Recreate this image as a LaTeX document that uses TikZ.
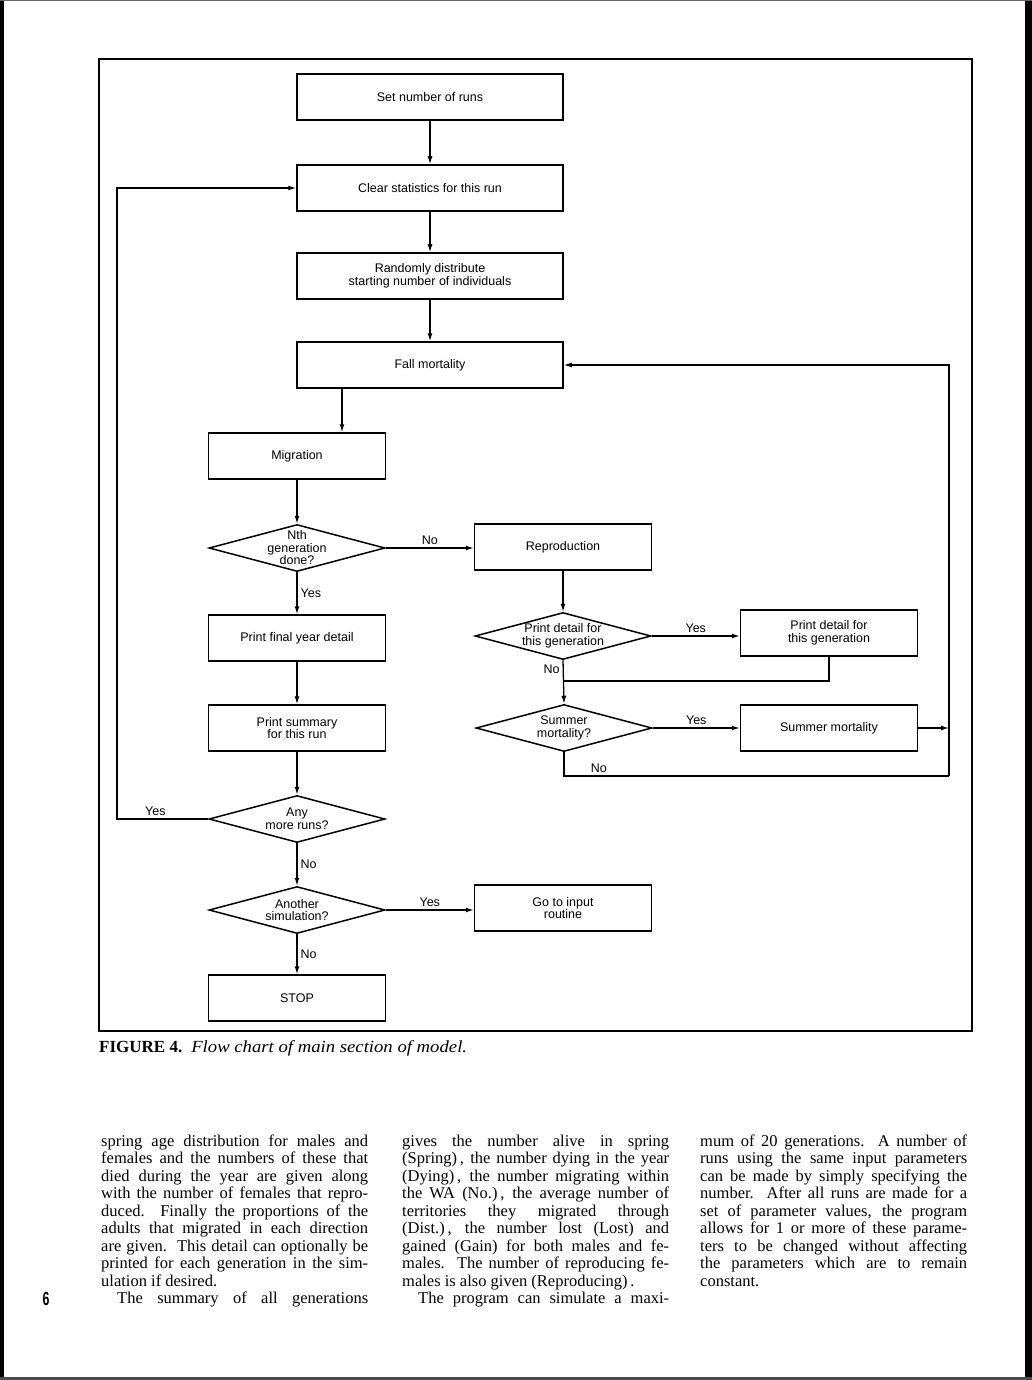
\documentclass[tikz,border=0pt]{standalone}
\usepackage{fontspec}
\setmainfont{Liberation Serif}
\newfontfamily\chartfont{Liberation Sans}
\usetikzlibrary{shapes.geometric,arrows.meta}

\newcommand{\chartsize}{\chartfont\fontsize{12.5}{12.5}\selectfont}
\newlength{\colwidth}
\setlength{\colwidth}{267pt}
\newcommand{\fullline}[1]{\hbox to \colwidth{#1}}
\newcommand{\lastline}[1]{\hbox to \colwidth{#1\hfil}}
\newcommand{\indentline}[1]{\hbox to \colwidth{\hspace{16pt}#1}}

\tikzset{
    box/.style = {draw, line width=1.5pt, minimum width=177pt, minimum height=46pt,
                  inner sep=2pt, align=center, font=\chartsize},
    widebox/.style = {box, minimum width=266pt},
    decision/.style = {draw, diamond, line width=1.5pt, minimum width=176pt,
                       minimum height=47pt, inner sep=0pt},
    qtext/.style = {align=center, inner sep=0pt, font=\chartsize},
    lbl/.style = {font=\chartsize, inner sep=3pt},
    wire/.style = {line width=1.3pt},
    arr/.style = {wire, -{Latex[length=8pt,width=5pt]}},
    bodytext/.style = {anchor=base west, inner sep=0pt,
                       font=\fontsize{16.5}{17.5}\selectfont}
}

\begin{document}
\begin{tikzpicture}[x=1pt,y=-1pt]
    \useasboundingbox (0,0) rectangle (1032,1380);

    % edges of the scanned page
    \fill[black] (0,0) rectangle (4,1380);
    \fill[black] (1025,0) rectangle (1032,1380);
    \fill[black!60] (0,0) rectangle (1032,1.2);
    \fill[black!70] (0,1377) rectangle (1032,1380);

    \draw[line width=1.5pt] (99,59) rectangle (972,1031);

    \node[widebox] (runs) at (430,97) {Set number of runs};
    \node[widebox] (clear) at (430,188) {Clear statistics for this run};
    \node[widebox] (rand) at (430,276) {Randomly distribute\\starting number of individuals};
    \node[widebox] (fall) at (430,365) {Fall mortality};

    \node[box] (mig) at (297,456) {Migration};
    \node[decision, label={[qtext]center:{Nth\\generation\\done?}}] (nth) at (297,548) {};
    \node[box] (final) at (297,638) {Print final year detail};
    \node[box] (summ) at (297,728) {Print summary\\for this run};
    \node[decision, label={[qtext]center:{Any\\more runs?}}] (any) at (297,819) {};
    \node[decision, label={[qtext]center:{Another\\simulation?}}] (another) at (297,910) {};
    \node[box] (stop) at (297,998) {STOP};

    \node[box] (repro) at (563,547) {Reproduction};
    \node[decision, label={[qtext]center:{Print detail for\\this generation}}] (pdq) at (563,636) {};
    \node[decision, label={[qtext]center:{Summer\\mortality?}}] (summq) at (564,728) {};
    \node[box] (goto) at (563,908) {Go to input\\routine};

    \node[box] (pdbox) at (829,633) {Print detail for\\this generation};
    \node[box] (summbox) at (829,728) {Summer mortality};

    \coordinate (yesturn) at (117,819);
    \coordinate (merge) at (564,681);
    \coordinate (rjoin) at (949,728);
    \coordinate (loopb) at (949,776);

    \draw[arr] (runs) -- (clear);
    \draw[arr] (clear) -- (rand);
    \draw[arr] (rand) -- (fall);
    \draw[arr] ([xshift=-88pt]fall.south) -- ([xshift=-88pt]fall.south |- mig.north);
    \draw[arr] (mig) -- (nth);
    \draw[arr] (nth.east) -- (nth.east -| repro.west) node[lbl, midway, above] {No};
    \draw[arr] (nth.south) -- (final.north) node[lbl, midway, right] {Yes};
    \draw[arr] (final) -- (summ);
    \draw[arr] (summ.south) -- (any.north);
    \draw[arr] (any.west) -- (yesturn) node[lbl, pos=0.58, above] {Yes} |- (clear.west);
    \draw[arr] (any.south) -- (another.north) node[lbl, midway, right] {No};
    \draw[arr] (another.east) -- (another.east -| goto.west) node[lbl, midway, above] {Yes};
    \draw[arr] (another.south) -- (stop.north) node[lbl, midway, right] {No};

    \draw[arr] (repro) -- (pdq);
    \draw[arr] (pdq.east) -- (pdq.east -| pdbox.west) node[lbl, midway, above] {Yes};
    \draw[arr] (pdq.south) -- (summq.north) node[lbl, pos=0.2, left] {No};
    \draw[wire] (pdbox.south) |- (merge);
    \draw[arr] (summq.east) -- (summbox.west) node[lbl, midway, above] {Yes};
    \draw[arr] (summbox.east) -- (rjoin);
    \draw[wire] (summq.south) |- (loopb) node[lbl, pos=0.53, above right] {No};
    \draw[arr] (loopb) |- (fall.east);

    \node[anchor=base west, inner sep=0pt, font=\fontsize{17}{18}\selectfont] (caption) at (99,1052)
        {\textbf{FIGURE 4.}\hspace{9pt}\scalebox{1.1}[1]{\itshape Flow chart of main section of model.}};

    \node[bodytext] (colA) at (101,1146) {\vtop{\hsize=\colwidth
        \fullline{spring age distribution for males and}
        \fullline{females and the numbers of these that}
        \fullline{died during the year are given along}
        \fullline{with the number of females that repro-}
        \fullline{duced.\ \ Finally the proportions of the}
        \fullline{adults that migrated in each direction}
        \fullline{are given.\ \ This detail can optionally be}
        \fullline{printed for each generation in the sim-}
        \lastline{ulation if desired.}
        \indentline{The summary of all generations}}};

    \node[bodytext] (colB) at (402,1146) {\vtop{\hsize=\colwidth
        \fullline{gives the number alive in spring}
        \fullline{(Spring)\,, the number dying in the year}
        \fullline{(Dying)\,, the number migrating within}
        \fullline{the WA (No.)\,, the average number of}
        \fullline{territories they migrated through}
        \fullline{(Dist.)\,, the number lost (Lost) and}
        \fullline{gained (Gain) for both males and fe-}
        \fullline{males.\ \ The number of reproducing fe-}
        \lastline{males is also given (Reproducing)\,.}
        \indentline{The program can simulate a maxi-}}};

    \node[bodytext] (colC) at (700,1146) {\vtop{\hsize=\colwidth
        \fullline{mum of 20 generations.\ \ A number of}
        \fullline{runs using the same input parameters}
        \fullline{can be made by simply specifying the}
        \fullline{number.\ \ After all runs are made for a}
        \fullline{set of parameter values, the program}
        \fullline{allows for 1 or more of these parame-}
        \fullline{ters to be changed without affecting}
        \fullline{the parameters which are to remain}
        \lastline{constant.}}};

    \node[anchor=base, inner sep=0pt] (pageno) at (46,1305)
        {\scalebox{0.65}[1]{\chartfont\bfseries\fontsize{19}{19}\selectfont 6}};
\end{tikzpicture}
\end{document}
